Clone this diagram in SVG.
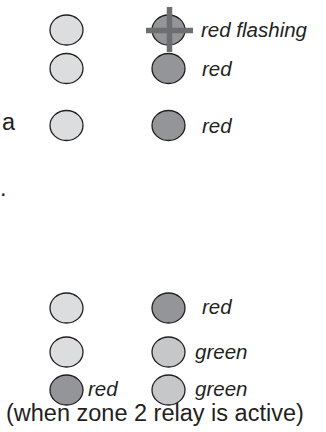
<svg xmlns="http://www.w3.org/2000/svg" width="326" height="432" viewBox="0 0 326 432">
<style>
.led{stroke:#231f20;stroke-width:1.3}
.off{fill:#dcdddf}
.red{fill:#939598}
.grn{fill:#c6c7c9}
.lbl{font-family:"Liberation Sans",Arial,sans-serif;font-style:italic;font-size:20.5px;fill:#231f20}
.txt{font-family:"Liberation Sans",Arial,sans-serif;font-size:23.5px;fill:#231f20}
.cross{stroke:#6d6e70;stroke-width:5.5}
</style>
<rect width="326" height="432" fill="#ffffff"/>
<g id="row1-left"><ellipse class="led off" cx="66.5" cy="30" rx="16.5" ry="15"/></g>
<g id="row1-right">
<ellipse class="led red" cx="168.5" cy="30" rx="16.5" ry="15"/>
<line class="cross" x1="146" y1="30.5" x2="193" y2="30.5"/>
<line class="cross" x1="169.5" y1="7" x2="169.5" y2="52"/>
<text class="lbl" x="201" y="37">red flashing</text>
</g>
<g id="row2-left"><ellipse class="led off" cx="66.5" cy="68.5" rx="16.5" ry="15"/></g>
<g id="row2-right">
<ellipse class="led red" cx="168.5" cy="68.5" rx="16.5" ry="15"/>
<text class="lbl" x="202" y="76">red</text>
</g>
<text class="txt" x="2" y="130">a</text>
<g id="row3-left"><ellipse class="led off" cx="66.5" cy="125.5" rx="16.5" ry="15"/></g>
<g id="row3-right">
<ellipse class="led red" cx="168.5" cy="125.5" rx="16.5" ry="15"/>
<text class="lbl" x="202" y="133">red</text>
</g>
<text class="txt" x="0" y="196">.</text>
<g id="row4-left"><ellipse class="led off" cx="66.5" cy="308" rx="16.5" ry="15"/></g>
<g id="row4-right">
<ellipse class="led red" cx="168.5" cy="308" rx="16.5" ry="15"/>
<text class="lbl" x="202" y="314">red</text>
</g>
<g id="row5-left"><ellipse class="led off" cx="66.5" cy="352" rx="16.5" ry="15"/></g>
<g id="row5-right">
<ellipse class="led grn" cx="168.5" cy="352" rx="16.5" ry="15"/>
<text class="lbl" x="195" y="359">green</text>
</g>
<g id="row6-left">
<ellipse class="led red" cx="66.5" cy="390" rx="16.5" ry="15"/>
<text class="lbl" x="88" y="395.5">red</text>
</g>
<g id="row6-right">
<ellipse class="led grn" cx="168.5" cy="390" rx="16.5" ry="15"/>
<text class="lbl" x="195" y="395.5">green</text>
</g>
<text class="txt" x="6" y="421">(when zone 2 relay is active)</text>
<g id="connectors"/>
</svg>
